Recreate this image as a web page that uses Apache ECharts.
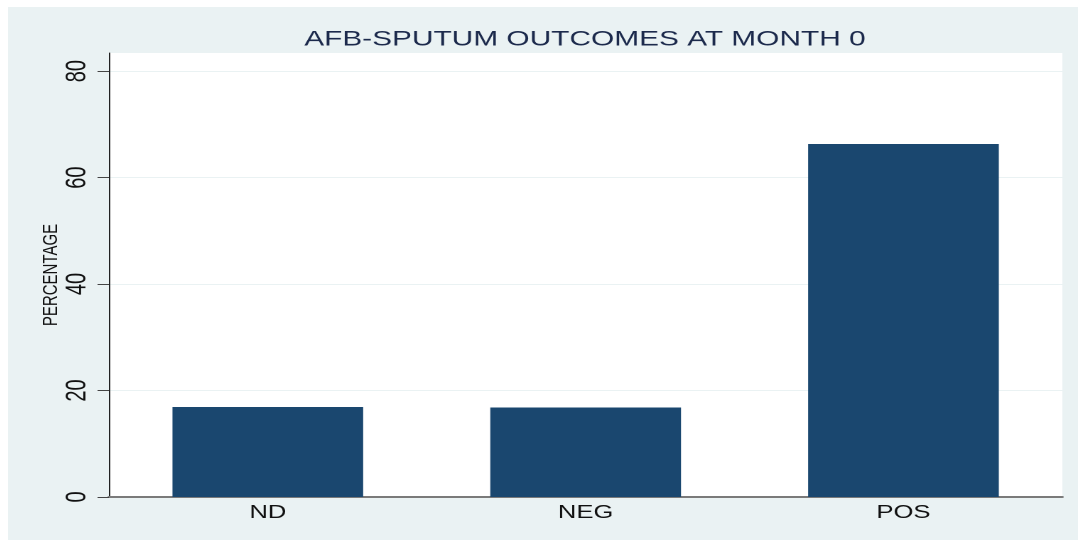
<!DOCTYPE html>
<html>
<head>
<meta charset="utf-8">
<script src="https://cdn.jsdelivr.net/npm/echarts@6/dist/echarts.min.js"></script>
<style>
  html, body { margin: 0; padding: 0; background: #fff; overflow: hidden; }
  /* the reference is stretched sideways, so draw narrow and scale it out */
  #chart {
    position: absolute; left: 8px; top: 7px;
    width: 753px; height: 533px;
    transform: scaleX(1.421); transform-origin: 0 0;
  }
</style>
</head>
<body>
<div id="chart"></div>
<script>
const categories = ["ND", "NEG", "POS"];
const percentages = [16.9, 16.8, 66.3];
const yTicks = [0, 20, 40, 60, 80];
const yMax = 83.4;

const chart = echarts.init(document.getElementById("chart"), null, { devicePixelRatio: 2 });

const FONT = "Liberation Sans";

chart.setOption({
  backgroundColor: "#EAF2F3",
  animation: false,
  title: {
    text: "AFB-SPUTUM OUTCOMES AT MONTH 0",
    left: 401,
    textAlign: "center",
    top: 17,
    textStyle: { fontFamily: FONT, fontWeight: "normal", fontSize: 21, color: "#1c2a4c" },
  },
  grid: {
    left: 71, right: 11, top: 46, bottom: 43,
    show: true, backgroundColor: "#fff", borderWidth: 0,
  },
  xAxis: {
    type: "category",
    data: categories,
    axisLine: { lineStyle: { color: "#7a7a7a", width: 2 } },
    axisTick: { show: false },
    axisLabel: { fontFamily: FONT, fontSize: 18, color: "#111", margin: 7 },
  },
  yAxis: {
    type: "value",
    min: 0,
    max: yMax,
    interval: 20,
    name: "PERCENTAGE",
    nameLocation: "middle",
    nameGap: 33,
    nameRotate: 90,
    nameMoveOverlap: false,
    nameTextStyle: { fontFamily: FONT, fontSize: 15, color: "#111" },
    axisLine: { show: true, lineStyle: { color: "#222", width: 1 } },
    axisTick: { show: true, length: 8, customValues: yTicks, lineStyle: { color: "#444" } },
    axisLabel: {
      customValues: yTicks,
      rotate: 90,
      fontFamily: FONT, fontSize: 20, color: "#111", margin: 12,
    },
    splitLine: { show: true, lineStyle: { color: "#EAF2F3", width: 1 } },
  },
  series: [
    {
      type: "bar",
      data: percentages,
      barWidth: "60%",
      itemStyle: { color: "#1A476F" },
    },
  ],
});
</script>
</body>
</html>
